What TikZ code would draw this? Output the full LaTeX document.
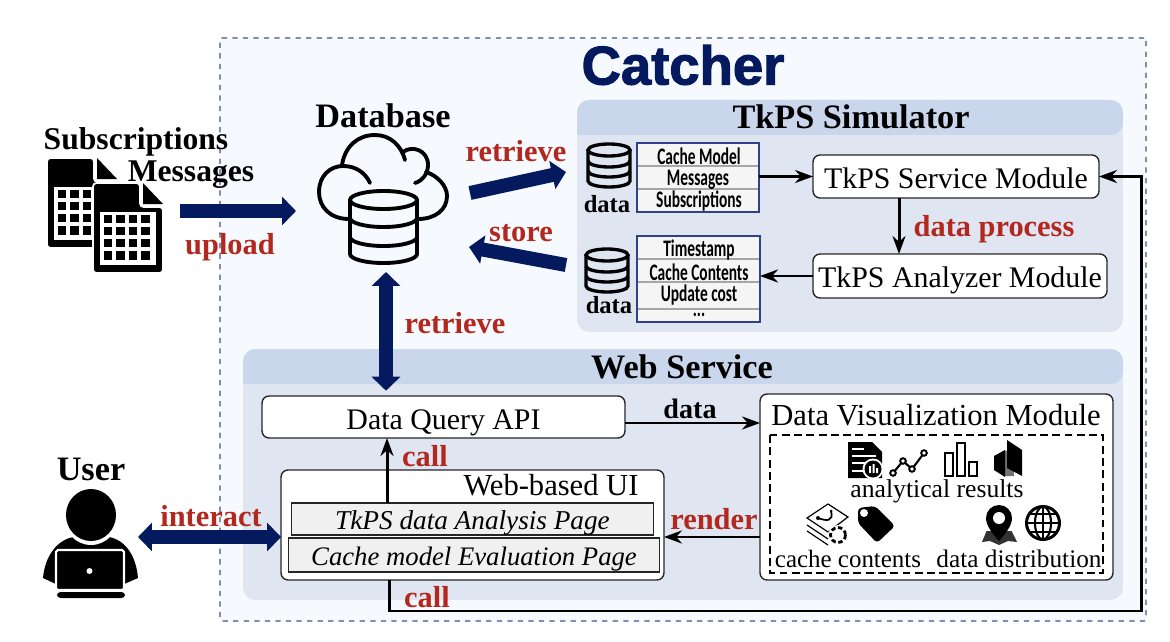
\documentclass[tikz,border=0pt]{standalone}
\usepackage{fontspec}
\usetikzlibrary{positioning, arrows.meta}
\setmainfont{Liberation Serif}
\newfontfamily\titlefont[BoldFeatures={FakeBold=2}]{Liberation Sans}
\newfontfamily\condfont[FakeStretch=0.65]{Carlito}
\definecolor{navyarrow}{HTML}{051A5E}
\definecolor{labelred}{HTML}{B2281E}
\definecolor{panelblue}{HTML}{DFE6F2}
\definecolor{headblue}{HTML}{C9D6EB}
\definecolor{outerblue}{HTML}{F6FAFF}
\definecolor{dashblue}{HTML}{7F8FAE}
\definecolor{tableline}{HTML}{2F4187}

% one table icon, 70 wide and 90 high
\newcommand{\sheeticon}[2]{
    \begin{scope}[shift={(#1,#2)}]
        \fill[black, draw=white, line width=1pt, rounded corners=2pt]
            (0,0) -- (47,0) -- (47,24) -- (70,24) -- (70,90) -- (0,90) -- cycle;
        \fill[black] (50,0) -- (70,21) -- (50,21) -- cycle;
        \fill[white] (7,29) rectangle (63,82);
        \foreach \i in {0,1,2,3} {
            \foreach \j in {0,1,2,3} {
                \fill[black] ({11+\i*12.4},{32+\j*12.1}) rectangle ++(8.4,8.2);
            }
        }
    \end{scope}
}
% small database stack
\newcommand{\stackicon}[2]{
    \begin{scope}[shift={(#1,#2)}, line width=1.9pt]
        \draw[black] (22,7) ellipse[x radius=21, y radius=6];
        \draw[black] (1,7) -- (1,38) arc[start angle=180, end angle=0, x radius=21, y radius=6] -- (43,7);
        \draw[black] (1,18) arc[start angle=180, end angle=0, x radius=21, y radius=6];
        \draw[black] (1,28) arc[start angle=180, end angle=0, x radius=21, y radius=6];
    \end{scope}
}

\tikzset{
    panel/.style={fill=panelblue, rounded corners=7pt, inner sep=0pt, outer sep=0pt},
    module/.style={draw=black!85, fill=white, rounded corners=4pt, line width=0.8pt, inner sep=0pt, outer sep=0pt,
        font=\fontsize{17}{20}\selectfont, text height=.48cm, text depth=0pt},
    pagebox/.style={draw=black!85, fill=black!6, line width=0.6pt, inner sep=0pt, outer sep=0pt,
        font=\fontsize{15.5}{18}\selectfont\itshape, text height=.42cm, text depth=0pt},
    tablebox/.style={draw=tableline, fill=black!4, line width=0.8pt, inner sep=0pt, outer sep=0pt},
    tabletext/.style={font=\fontsize{13.5}{15}\selectfont\condfont\bfseries, inner sep=0pt},
    heading/.style={font=\fontsize{19.5}{22}\selectfont\bfseries, inner sep=0pt},
    filename/.style={font=\fontsize{18}{20}\selectfont\bfseries, inner sep=0pt},
    plain/.style={font=\fontsize{14.6}{18}\selectfont, inner sep=0pt},
    boxtitle/.style={font=\fontsize{17.4}{20}\selectfont, inner sep=0pt},
    redlabel/.style={font=\fontsize{17.3}{20}\selectfont\bfseries, text=labelred, inner sep=0pt},
    smallbold/.style={font=\fontsize{14}{16}\selectfont\bfseries, inner sep=0pt},
    bigarrow/.style={navyarrow, line width=.28cm, -{Triangle[length=.28cm,width=.56cm]}},
    bigboth/.style={navyarrow, line width=.28cm, {Triangle[length=.28cm,width=.56cm]}-{Triangle[length=.28cm,width=.56cm]}},
    thinarrow/.style={black, line width=1.7pt, -{Stealth[length=.36cm,width=.26cm]}},
}

\begin{document}
\begin{tikzpicture}[x=0.02cm, y=-0.02cm]
    \useasboundingbox (0,0) rectangle (1170,642);

    % frame and panels
    \node[draw=dashblue, fill=outerblue, dashed, line width=1pt, rounded corners=1pt, inner sep=0pt, outer sep=0pt,
        minimum width=18.52cm, minimum height=11.66cm] (catcherframe) at (683,329.5) {};
    \node[font=\fontsize{31}{34}\selectfont\titlefont\bfseries, text=navyarrow, inner sep=0pt] (catchertitle) at (683,65) {Catcher};

    \node[panel, minimum width=10.92cm, minimum height=4.64cm] (simpanel) at (850,216) {};
    \fill[headblue] (577,135) [rounded corners=7pt] -- (577,100) -- (1123,100) [sharp corners] [rounded corners=7pt] -- (1123,135) [sharp corners] -- cycle;
    \node[heading] (simtitle) at (851,117) {TkPS Simulator};

    \node[panel, minimum width=17.6cm, minimum height=5.02cm] (webpanel) at (683,474.5) {};
    \fill[headblue] (243,384) [rounded corners=7pt] -- (243,349) -- (1123,349) [sharp corners] [rounded corners=7pt] -- (1123,384) [sharp corners] -- cycle;
    \node[heading] (webtitle) at (682,367) {Web Service};

    % files on the left
    \sheeticon{47}{158}
    \sheeticon{93}{183}
    \node[filename] (subsname) at (136,142) {Subscriptions};
    \node[filename] (msgname) at (191,175) {Messages};
    \coordinate (filesout) at (180,211);
    \coordinate (dbupload) at (296,211);
    \draw[bigarrow] (filesout) -- (dbupload);
    \node[redlabel] (uploadlabel) at (230,247) {upload};

    % database
    \node[heading] (dbname) at (383,116) {Database};
    \begin{scope}[line width=2.2pt, line cap=round]
        \draw (349,219) .. controls (330,219) and (319,207) .. (319,192) .. controls (319,176) and (330,166) .. (343,166) .. controls (355,166) and (365,172) .. (370,183);
        \draw (342,165) .. controls (345,146) and (358,135) .. (375,135) .. controls (390,135) and (401,145) .. (405,160);
        \draw (403,152) .. controls (412,145) and (428,150) .. (428,165) .. controls (428,174) and (422,181) .. (415,183);
        \draw (426,172) .. controls (438,176) and (447,186) .. (447,196) .. controls (447,210) and (435,219) .. (418,219);
        \draw (383.5,200) ellipse[x radius=33.5, y radius=9];
        \draw (350,200) -- (350,254) arc[start angle=180, end angle=0, x radius=33.5, y radius=9] -- (417,200);
        \draw (350,218) arc[start angle=180, end angle=0, x radius=33.5, y radius=9];
        \draw (350,237) arc[start angle=180, end angle=0, x radius=33.5, y radius=9];
    \end{scope}

    % tables
    \stackicon{587}{143}
    \stackicon{585}{248}
    \node[smallbold] (dataone) at (607,204) {data};
    \node[smallbold] (datatwo) at (609,305) {data};
    \node[tablebox, minimum width=2.44cm, minimum height=1.38cm] (inputtable) at (698,177.5) {};
    \node[tablebox, minimum width=2.46cm, minimum height=1.72cm] (resulttable) at (698.5,279) {};
    \foreach \y in {166,189} {
        \draw[black!35, line width=0.7pt] (638,\y) -- (758,\y);
    }
    \foreach \y in {259,282,309} {
        \draw[black!35, line width=0.7pt] (638,\y) -- (759,\y);
    }
    \node[tabletext] (cachemodel) at (699,156) {Cache Model};
    \node[tabletext] (messages) at (698,180) {Messages};
    \node[tabletext] (subscriptions) at (699,201) {Subscriptions};
    \node[tabletext] (timestamp) at (699,250) {Timestamp};
    \node[tabletext] (cachecontents) at (699,272) {Cache Contents};
    \node[tabletext] (updatecost) at (699,295) {Update cost};
    \node[tabletext] (moredots) at (699,315) {...};

    % modules
    \node[module, minimum width=5.72cm, minimum height=.86cm] (servicebox) at (956,176.5) {TkPS Service Module};
    \node[module, minimum width=5.88cm, minimum height=.88cm] (analyzerbox) at (960,276) {TkPS Analyzer Module};
    \node[module, minimum width=7.26cm, minimum height=.84cm] (apibox) at (443.5,417) {Data Query API};
    \node[module, minimum width=7.06cm, minimum height=3.72cm] (visbox) at (936.5,487) {};
    \node[boxtitle] (vistitle) at (936,415) {Data Visualization Module};
    \draw[dash pattern=on 4.5pt off 2.5pt, line width=0.8pt] (770,435) rectangle (1103,573);
    \node[module, minimum width=7.66cm, minimum height=2.2cm] (uibox) at (472.5,525) {};
    \node[boxtitle] (uititle) at (551,485) {Web-based UI};
    \node[pagebox, minimum width=7.26cm, minimum height=.64cm] (analysispage) at (472.5,519) {TkPS data Analysis Page};
    \node[pagebox, minimum width=7.44cm, minimum height=.68cm, font=\fontsize{15.2}{18}\selectfont\itshape] (evalpage) at (474,555) {Cache model Evaluation Page};

    % icons in the visualization module
    \fill[black] (848,442) -- (872,442) -- (882,452) -- (882,478) -- (848,478) -- cycle;
    \foreach \y/\w in {449/12,456/24,463/18,471/16} {
        \draw[white, line width=1.2pt] (852,\y) -- ++(\w,0);
    }
    \fill[white] (873,469) circle[radius=10.5];
    \fill[black] (873,469) circle[radius=8.5];
    \fill[white] (869,466) rectangle ++(2,7) (872.5,464) rectangle ++(2,9) (876,468) rectangle ++(2,5);
    \draw[line width=1.2pt] (893,473) -- (903,461) -- (912,469) -- (924,453);
    \foreach \p in {(893,473),(903,461),(912,469),(924,453)} {
        \draw[fill=white, line width=1.1pt] \p circle[radius=2.8];
    }
    \draw[line width=1.6pt] (945,453) rectangle (953,476) (957,443) rectangle (965,476) (969,462) rectangle (977,476);
    \fill[black!55] (1001,452) -- (1013,449) -- (1014,476) -- (1005,476) -- cycle;
    \fill[black] (994,456) -- (1005,450) -- (1005,477) -- (994,470) -- cycle;
    \fill[black] (1007,440) -- (1022,450) -- (1022,476) -- (1007,468) -- cycle;
    \node[plain] (analyticallabel) at (937,491) {analytical results};

    \begin{scope}[line width=0.7pt]
        \draw (807,518) -- (828,504) -- (848,517) -- (828,532) -- cycle;
        \draw (807,525) -- (828,539) (807,531) -- (828,545);
        \draw[line width=1pt] (818,518) .. controls (826,521) and (834,522) .. (831,511);
        \fill (818,518) circle[radius=2] (831,511) circle[radius=1.5];
        \draw[fill=white, draw=white, line width=1pt] (838,535) circle[radius=9];
        \draw[dash pattern=on 2.5pt off 1.5pt, line width=1.6pt] (838,535) circle[radius=7.5];
    \end{scope}
    \fill[black, rounded corners=2pt] (858,508) -- (875,506) -- (895,526) -- (877,543) -- (858,523) -- cycle;
    \fill[white] (864,513) circle[radius=4];
    \fill[black!80] (987,530) -- (982,542) -- (990,541) -- (999,545) -- (1008,541) -- (1017,542) -- (1011,530) -- cycle;
    \fill[white] (983,525) rectangle (1015,531);
    \fill[black] (986,518) arc[start angle=180, end angle=360, radius=13] .. controls (1012,526) and (1005,534) .. (999,541) .. controls (993,534) and (986,526) .. (986,518) -- cycle;
    \fill[white] (999,518) circle[radius=6];
    \begin{scope}[line width=1.2pt]
        \draw[line width=1.7pt] (1043,523) circle[radius=16.5];
        \draw (1043,523) ellipse[x radius=8, y radius=16.5];
        \draw (1043,506.5) -- (1043,539.5) (1026.5,523) -- (1059.5,523);
        \draw (1029,514) -- (1057,514) (1029,532) -- (1057,532);
    \end{scope}
    \node[plain, font=\fontsize{14.2}{18}\selectfont] (cachelabel) at (848,559) {cache contents};
    \node[plain, font=\fontsize{14.4}{18}\selectfont] (distlabel) at (1019,559) {data distribution};

    % user
    \node[heading] (username) at (91,469) {User};
    \fill[black] (43,578) .. controls (45,555) and (58,540) .. (73,537) .. controls (82,544) and (100,544) .. (109,537) .. controls (125,540) and (136,555) .. (138,578) -- (122,585) -- (58,585) -- cycle;
    \fill[white] (91,515) ellipse[x radius=28, y radius=30];
    \fill[black] (91,515) ellipse[x radius=25, y radius=26];
    \draw[white, line width=1.2pt, fill=black, rounded corners=1pt] (56,550) rectangle (124,590);
    \fill[white] (89.5,571) circle[radius=3];
    \fill[black, rounded corners=2pt] (57,592) rectangle (125,598);
    \coordinate (useredge) at (138,537);

    % thick arrows
    \coordinate (dbtosimstart) at (470,193);
    \coordinate (dbtosimend) at (566,172);
    \coordinate (simtodbstart) at (566,265);
    \coordinate (simtodbend) at (469,247);
    \coordinate (dbfoot) at (386,272);
    \draw[bigarrow] (dbtosimstart) -- (dbtosimend);
    \draw[bigarrow] (simtodbstart) -- (simtodbend);
    \draw[bigboth, shorten >=3pt] (dbfoot) -- (dbfoot |- apibox.north);
    \draw[bigboth] (useredge) -- (uibox.west |- useredge);
    \node[redlabel] (retrieveone) at (516,151) {retrieve};
    \node[redlabel] (storelabel) at (521,233) {store};
    \node[redlabel] (retrievetwo) at (455,323) {retrieve};
    \node[redlabel] (interactlabel) at (211,516) {interact};

    % thin arrows
    \coordinate (callcorner) at (1141,611);
    \draw[thinarrow] (servicebox.west -| inputtable.east) -- (servicebox.west);
    \draw[thinarrow] (analyzerbox.west) -- (analyzerbox.west -| resulttable.east);
    \draw[thinarrow] (899,198) -- (899,254);
    \draw[thinarrow] ([yshift=-.12cm]apibox.east) -- ([yshift=-.12cm]apibox.east -| visbox.west);
    \draw[thinarrow] ([yshift=-1cm]visbox.west) -- ([yshift=-1cm]visbox.west -| uibox.east);
    \draw[thinarrow] ([xshift=-1.71cm]analysispage.north) -- ([xshift=-1.71cm]analysispage.north |- apibox.south);
    \draw[thinarrow] ([xshift=-1.67cm]uibox.south) |- (callcorner) |- (servicebox.east);
    \node[redlabel] (processlabel) at (994,229) {data process};
    \node[redlabel] (callone) at (425,456) {call};
    \node[redlabel] (rendername) at (714,519) {render};
    \node[redlabel] (calltwo) at (427,597) {call};
    \node[smallbold, font=\fontsize{16}{20}\selectfont\bfseries] (datalabel) at (690,409) {data};
\end{tikzpicture}
\end{document}
